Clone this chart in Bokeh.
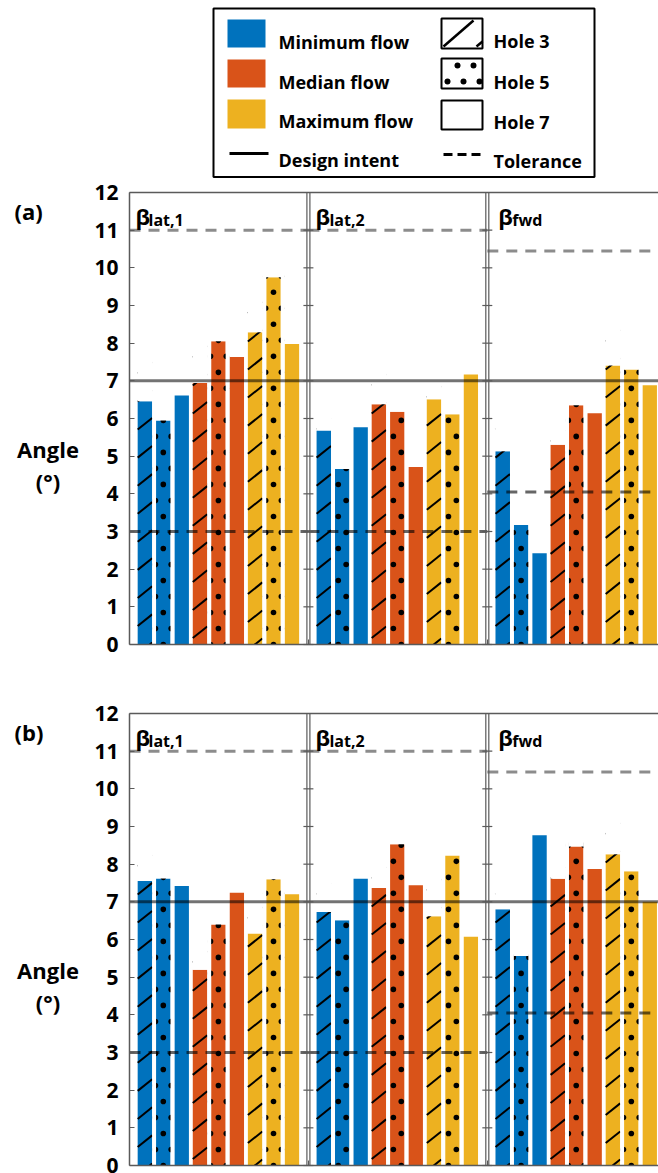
import math

from bokeh.core.properties import value
from bokeh.embed import file_html
from bokeh.layouts import column
from bokeh.models import FixedTicker, Label, LinearAxis, Range1d
from bokeh.plotting import figure
from bokeh.resources import INLINE

FONT = "Open Sans"

# ---------------------------------------------------------------- data
panel_subscripts = ["lat,1", "lat,2", "fwd"]
flow_names = ["Minimum flow", "Median flow", "Maximum flow"]
hole_names = ["Hole 3", "Hole 5", "Hole 7"]
flow_colors = ["#0072BD", "#D95319", "#EDB120"]
hole_fills = ["hatch", "dots", "plain"]

# angle in degrees, flow-major: min (H3, H5, H7), median (...), max (...)
angle_a_lat1 = [6.46, 5.95, 6.61, 6.94, 8.05, 7.63, 8.29, 9.75, 7.98]
angle_a_lat2 = [5.68, 4.66, 5.77, 6.38, 6.18, 4.71, 6.51, 6.11, 7.17]
angle_a_fwd = [5.13, 3.17, 2.42, 5.30, 6.35, 6.14, 7.41, 7.30, 6.88]

angle_b_lat1 = [7.55, 7.62, 7.42, 5.20, 6.40, 7.24, 6.16, 7.60, 7.20]
angle_b_lat2 = [6.73, 6.51, 7.61, 7.37, 8.53, 7.44, 6.62, 8.23, 6.07]
angle_b_fwd = [6.80, 5.56, 8.77, 7.61, 8.47, 7.87, 8.26, 7.81, 7.00]

design_intent = 7.0
tol_upper = [11.0, 11.0, 10.45]
tol_lower = [3.0, 3.0, 4.05]
y_ticks = list(range(0, 13))

# ---------------------------------------------------------------- layout
WIDTH = 658
LEGEND_H = 178
AXIS_PX = 129        # pixel column of the y axis
PANEL_W = 9.74       # one x unit per bar slot
FIRST_X = 0.84
BAR_W = 0.79
X_END = 28.8
PX_X = (WIDTH - AXIS_PX) / X_END
PX_Y = 452 / 12.0
GRID = "#5a5a5a"

BETA_DX = [6, 7, 11]
SUB_DX = [19, 21, 25]


def build_panel(tag, series, height, pad_top, pad_bottom):
    y0 = -pad_bottom / PX_Y
    p = figure(width=WIDTH, height=height,
               x_range=Range1d(-AXIS_PX / PX_X, X_END),
               y_range=Range1d(y0, 12 + pad_top / PX_Y),
               x_axis_type=None, y_axis_type=None, output_backend="svg",
               toolbar_location=None, min_border=0, outline_line_color=None,
               background_fill_color="white", border_fill_color="white")

    hw = BAR_W / 2
    bars = []
    for pi, vals in enumerate(series):
        ps = pi * PANEL_W
        for i, v in enumerate(vals):
            bars.append(dict(panel=pi, ps=ps, x=ps + FIRST_X + i, top=v,
                             color=flow_colors[i // 3], kind=hole_fills[i % 3]))

    p.vbar(x=[b["x"] for b in bars], top=[b["top"] for b in bars], bottom=0,
           width=BAR_W, fill_color=[b["color"] for b in bars], line_color=None)

    # diagonal hatching for Hole 3
    slope, step, phase = 0.39, 0.745, 0.645
    hx0, hy0, hx1, hy1 = [], [], [], []
    for b in bars:
        if b["kind"] != "hatch":
            continue
        L, R = b["x"] - hw, b["x"] + hw
        yl0 = slope * (L - b["ps"] - FIRST_X) + phase
        kmin = math.floor((-slope * BAR_W - yl0) / step)
        kmax = math.ceil((b["top"] - yl0) / step)
        for k in range(kmin, kmax + 1):
            yl = yl0 + k * step
            hx0.append(L)
            hy0.append(yl)
            hx1.append(R)
            hy1.append(yl + slope * BAR_W)
    p.segment(hx0, hy0, hx1, hy1, line_color="black", line_width=2)

    # staggered dot pattern for Hole 5
    col_step, row_step = 3.0 / 7.0, 0.85
    dot_phase = [0.0, -col_step / 2, 0.0]
    rx, ry = 2.8 / PX_X, 2.8 / PX_Y
    dx, dy = [], []
    for b in bars:
        if b["kind"] != "dots":
            continue
        L, R = b["x"] - hw, b["x"] + hw
        origin = b["ps"] + FIRST_X + 1 + dot_phase[b["panel"]]
        nmin = math.ceil((L - rx - origin) / col_step)
        nmax = math.floor((R + rx - origin) / col_step)
        for n in range(nmin, nmax + 1):
            cx = origin + n * col_step
            y = row_step / 2 if n % 2 else 0.0
            while y <= b["top"] + ry:
                dx.append(cx)
                dy.append(y)
                y += row_step
    p.scatter(dx, dy, size=5.6, marker="circle", fill_color="black", line_color=None)

    # white masks keep the fill patterns inside their bars
    ml, mr, mb, mt = [0], [X_END], [y0 - 1], [0]
    for b in bars:
        if b["kind"] == "plain":
            continue
        L, R = b["x"] - hw, b["x"] + hw
        ml.append(L - 0.02); mr.append(R + 0.02); mb.append(b["top"]); mt.append(12.5)
        if b["kind"] == "dots":
            ml += [L - (1 - BAR_W), R]
            mr += [L, R + (1 - BAR_W)]
            mb += [-0.5, -0.5]
            mt += [12.5, 12.5]
    p.quad(left=ml, right=mr, bottom=mb, top=mt, fill_color="white", line_color=None)

    # design intent and tolerance lines
    p.segment([0], [design_intent], [X_END], [design_intent],
              line_color="black", line_alpha=0.55, line_width=3)
    starts = [pi * PANEL_W for pi in range(3)]
    ends = [s + PANEL_W for s in starts]
    p.segment(starts, tol_upper, ends, tol_upper, line_color="black", line_alpha=0.45,
              line_width=3, line_dash="11 8")
    p.segment(starts, tol_lower, ends, tol_lower, line_color="black", line_alpha=0.6,
              line_width=3, line_dash="11 8")

    # panel dividers with their tick marks
    dividers = [PANEL_W, 2 * PANEL_W]
    off = 1.5 / PX_X
    vx = [d + s for d in dividers for s in (-off, off)]
    p.segment(vx, [0] * len(vx), vx, [12] * len(vx), line_color=GRID, line_width=1.2)
    tx0 = [d - 5 / PX_X for d in dividers for _ in y_ticks]
    tx1 = [d + 5 / PX_X for d in dividers for _ in y_ticks]
    ty = [t for _ in dividers for t in y_ticks]
    p.segment(tx0, ty, tx1, ty, line_color=GRID, line_width=1.2)

    # axes, pinned to the panel edges
    yax = LinearAxis(ticker=FixedTicker(ticks=y_ticks), fixed_location=0, bounds=(0, 12),
                     major_tick_in=5, major_tick_out=0,
                     axis_line_color=GRID, axis_line_width=1.5, major_tick_line_color=GRID,
                     major_tick_line_width=1.2, major_label_standoff=11,
                     major_label_text_font=FONT, major_label_text_font_style="bold",
                     major_label_text_font_size="21px", major_label_text_color="black")
    p.add_layout(yax, "left")
    top_ax = LinearAxis(ticker=FixedTicker(ticks=[]), fixed_location=12, bounds=(0, X_END),
                        major_tick_in=0, major_tick_out=0, major_label_standoff=0,
                        axis_line_color=GRID, axis_line_width=1.5)
    p.add_layout(top_ax, "above")
    bot_ax = LinearAxis(ticker=FixedTicker(ticks=dividers), fixed_location=0,
                        bounds=(0, X_END), major_tick_in=5, major_tick_out=0,
                        major_label_overrides={d: "" for d in dividers},
                        axis_line_color=GRID, axis_line_width=1.5,
                        major_tick_line_color=GRID)
    p.add_layout(bot_ax, "below")

    # panel titles: beta with subscript
    for pi, sub in enumerate(panel_subscripts):
        ps = pi * PANEL_W
        p.add_layout(Label(x=ps, y=12, x_offset=BETA_DX[pi], y_offset=-23.5, text="β",
                           text_font=FONT, text_font_style="bold", text_font_size="22px",
                           text_color="black", text_baseline="alphabetic"))
        p.add_layout(Label(x=ps, y=12, x_offset=SUB_DX[pi], y_offset=-27.3, text=sub,
                           text_font=FONT, text_font_style="bold", text_font_size="16px",
                           text_color="black", text_baseline="alphabetic"))

    # panel tag and y-axis title
    def left_px(px):
        return (px - AXIS_PX) / PX_X

    p.add_layout(Label(x=left_px(14), y=11.5, text=tag, text_font=FONT,
                       text_font_style="bold", text_font_size="22px", text_color="black",
                       text_baseline="alphabetic"))
    for txt, yy in (("Angle", 5.2), ("(°)", 4.35)):
        p.add_layout(Label(x=left_px(47.5), y=yy, text=txt, text_font=FONT,
                           text_font_style="bold", text_font_size="22px",
                           text_color="black", text_align="center",
                           text_baseline="alphabetic"))
    return p


# ---------------------------------------------------------------- legend
leg = figure(width=WIDTH, height=LEGEND_H, x_range=Range1d(0, WIDTH),
             y_range=Range1d(LEGEND_H, 0), x_axis_type=None, y_axis_type=None,
             output_backend="svg", toolbar_location=None, min_border=0,
             outline_line_color=None)
leg.quad(left=[213], right=[594], top=[8], bottom=[176.5], fill_color=None,
         line_color="black", line_width=2)
leg.quad(left=[227] * 3, right=[265] * 3, top=[19, 59, 99], bottom=[47, 87, 128],
         fill_color=flow_colors, line_color=None)
leg.segment([229], [153], [268], [153], line_color="black", line_width=3)
leg.quad(left=[441] * 3, right=[482] * 3, top=[18, 58, 100], bottom=[48, 88, 129],
         fill_color="white", line_color="black", line_width=2)
leg.segment([443, 476], [46, 46], [473, 482], [20, 41], line_color="black", line_width=2.5)
leg.scatter([457, 473, 447, 463, 479], [65, 65, 81, 81, 81], size=6, marker="circle",
            fill_color="black", line_color=None)
leg.segment([443], [154], [480], [154], line_color="black", line_width=3, line_dash="9 5")
leg.text(x=[278] * 4, y=[41.7, 81.7, 120.5, 159.5], text=flow_names + ["Design intent"],
         text_font=value(FONT), text_font_style="bold", text_font_size="18px",
         text_color="black", text_baseline="alphabetic")
leg.text(x=[493] * 4, y=[40, 81.7, 121.7, 160], text=hole_names + ["Tolerance"],
         text_font=value(FONT), text_font_style="bold", text_font_size="18px",
         text_color="black", text_baseline="alphabetic")

panel_a = build_panel("(a)", [angle_a_lat1, angle_a_lat2, angle_a_fwd],
                      690 - LEGEND_H, 192 - LEGEND_H, 46)
panel_b = build_panel("(b)", [angle_b_lat1, angle_b_lat2, angle_b_fwd], 483, 23, 8)

page = column(leg, panel_a, panel_b, spacing=0)
open("out.html", "w").write(file_html(page, INLINE))
